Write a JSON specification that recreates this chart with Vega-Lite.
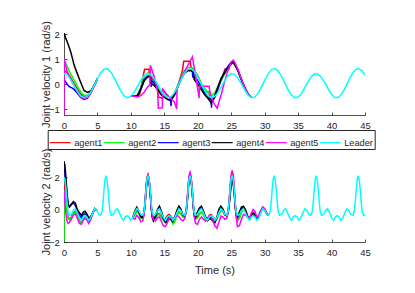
{
"$schema":"https://vega.github.io/schema/vega-lite/v6.json",
"background":"white",
"padding":{"left":40,"top":20,"right":5,"bottom":5},
"spacing":46,
"bounds":"flush",
"config":{
"view":{"stroke":null},
"font":"Liberation Sans",
"axis":{"grid":false,"tickCount":30,"labelOverlap":false,"labelBound":false,"domainColor":"#262626","domainWidth":0.8,"tickColor":"#262626","tickWidth":0.8,"tickSize":-3,"labelColor":"#262626","labelFontSize":9.5,"labelFont":"Liberation Sans","titleColor":"#262626","titleFontSize":11,"titleFontWeight":"normal","titleFont":"Liberation Sans"},
"axisX":{"labelPadding":8.5,"labelFlush":false},
"axisY":{"labelPadding":7.6}
},
"datasets":{
"ta":[
{"s":"agent1","t":0,"v":0.57},{"s":"agent1","t":0.25,"v":0.52},{"s":"agent1","t":0.5,"v":0.45},{"s":"agent1","t":0.75,"v":0.37},{"s":"agent1","t":1,"v":0.27},{"s":"agent1","t":1.25,"v":0.15},{"s":"agent1","t":1.5,"v":0.04},{"s":"agent1","t":2,"v":-0.2},{"s":"agent1","t":2.5,"v":-0.4},{"s":"agent1","t":3,"v":-0.5},{"s":"agent1","t":3.5,"v":-0.48},{"s":"agent1","t":4,"v":-0.31},{"s":"agent1","t":4.5,"v":-0.05},{"s":"agent1","t":5,"v":0.23},{"s":"agent1","t":7,"v":null},
{"s":"agent1","t":10,"v":-0.47},{"s":"agent1","t":10.5,"v":-0.47},{"s":"agent1","t":11,"v":-0.45},{"s":"agent1","t":11.3,"v":-0.4},{"s":"agent1","t":11.6,"v":0},{"s":"agent1","t":12,"v":0.55},{"s":"agent1","t":12.05,"v":0.6},{"s":"agent1","t":12.7,"v":0.6},{"s":"agent1","t":12.75,"v":0.35},{"s":"agent1","t":13,"v":0.3},{"s":"agent1","t":13.5,"v":0.15},{"s":"agent1","t":14,"v":-0.1},{"s":"agent1","t":14.1,"v":-0.5},{"s":"agent1","t":14.7,"v":-0.55},{"s":"agent1","t":14.75,"v":-0.2},{"s":"agent1","t":15.2,"v":-0.35},{"s":"agent1","t":15.7,"v":-0.5},{"s":"agent1","t":16.2,"v":-0.55},{"s":"agent1","t":16.7,"v":-0.3},{"s":"agent1","t":17.2,"v":0.1},{"s":"agent1","t":17.7,"v":0.55},{"s":"agent1","t":17.9,"v":0.92},{"s":"agent1","t":18.9,"v":0.92},{"s":"agent1","t":18.95,"v":0.7},{"s":"agent1","t":19.5,"v":0.55},{"s":"agent1","t":20,"v":0.35},{"s":"agent1","t":20.5,"v":0.05},{"s":"agent1","t":20.9,"v":-0.3},{"s":"agent1","t":21.7,"v":-0.3},{"s":"agent1","t":21.75,"v":-0.5},{"s":"agent1","t":22,"v":-0.75},{"s":"agent1","t":22.5,"v":-0.55},{"s":"agent1","t":23,"v":-0.2},{"s":"agent1","t":23.5,"v":0.2},{"s":"agent1","t":24,"v":0.55},{"s":"agent1","t":24.1,"v":0.62},{"s":"agent1","t":24.7,"v":0.62},{"s":"agent1","t":24.75,"v":0.8},{"s":"agent1","t":25.2,"v":0.93},{"s":"agent1","t":25.5,"v":0.85},{"s":"agent1","t":26,"v":0.58},{"s":"agent1","t":26.5,"v":0.22},{"s":"agent1","t":27,"v":-0.12},{"s":"agent1","t":27.5,"v":-0.38},{"s":"agent1","t":28,"v":-0.52},
{"s":"agent2","t":0,"v":1.0},{"s":"agent2","t":0.25,"v":0.85},{"s":"agent2","t":0.5,"v":0.7},{"s":"agent2","t":0.75,"v":0.55},{"s":"agent2","t":1,"v":0.42},{"s":"agent2","t":1.25,"v":0.3},{"s":"agent2","t":1.5,"v":0.18},{"s":"agent2","t":2,"v":-0.08},{"s":"agent2","t":2.5,"v":-0.3},{"s":"agent2","t":3,"v":-0.43},{"s":"agent2","t":3.5,"v":-0.43},{"s":"agent2","t":4,"v":-0.3},{"s":"agent2","t":4.5,"v":-0.05},{"s":"agent2","t":5,"v":0.23},{"s":"agent2","t":7,"v":null},
{"s":"agent2","t":10,"v":-0.47},{"s":"agent2","t":10.5,"v":-0.47},{"s":"agent2","t":11,"v":-0.42},{"s":"agent2","t":11.5,"v":-0.1},{"s":"agent2","t":12,"v":0.3},{"s":"agent2","t":12.5,"v":0.45},{"s":"agent2","t":12.9,"v":0.42},{"s":"agent2","t":12.95,"v":0.2},{"s":"agent2","t":13.5,"v":0.05},{"s":"agent2","t":14,"v":-0.15},{"s":"agent2","t":14.5,"v":-0.3},{"s":"agent2","t":15,"v":-0.4},{"s":"agent2","t":15.5,"v":-0.5},{"s":"agent2","t":16,"v":-0.55},{"s":"agent2","t":16.5,"v":-0.35},{"s":"agent2","t":17,"v":-0.05},{"s":"agent2","t":17.5,"v":0.3},{"s":"agent2","t":18,"v":0.55},{"s":"agent2","t":18.5,"v":0.68},{"s":"agent2","t":19,"v":0.66},{"s":"agent2","t":19.5,"v":0.55},{"s":"agent2","t":20,"v":0.3},{"s":"agent2","t":20.5,"v":0.05},{"s":"agent2","t":21,"v":-0.15},{"s":"agent2","t":21.5,"v":-0.3},{"s":"agent2","t":22,"v":-0.45},{"s":"agent2","t":22.5,"v":-0.35},{"s":"agent2","t":23,"v":-0.1},{"s":"agent2","t":23.5,"v":0.15},{"s":"agent2","t":24,"v":0.4},{"s":"agent2","t":24.5,"v":0.65},{"s":"agent2","t":25,"v":0.85},{"s":"agent2","t":25.3,"v":0.88},{"s":"agent2","t":25.5,"v":0.82},{"s":"agent2","t":26,"v":0.55},{"s":"agent2","t":26.5,"v":0.2},{"s":"agent2","t":27,"v":-0.12},{"s":"agent2","t":27.5,"v":-0.38},{"s":"agent2","t":28,"v":-0.52},
{"s":"agent3","t":0,"v":0.2},{"s":"agent3","t":0.25,"v":0.1},{"s":"agent3","t":0.5,"v":0.0},{"s":"agent3","t":0.75,"v":-0.08},{"s":"agent3","t":1,"v":-0.12},{"s":"agent3","t":1.25,"v":-0.15},{"s":"agent3","t":1.5,"v":-0.2},{"s":"agent3","t":2,"v":-0.35},{"s":"agent3","t":2.5,"v":-0.52},{"s":"agent3","t":3,"v":-0.6},{"s":"agent3","t":3.5,"v":-0.55},{"s":"agent3","t":4,"v":-0.35},{"s":"agent3","t":4.5,"v":-0.07},{"s":"agent3","t":5,"v":0.22},{"s":"agent3","t":7,"v":null},
{"s":"agent3","t":10,"v":-0.47},{"s":"agent3","t":10.5,"v":-0.47},{"s":"agent3","t":11,"v":-0.45},{"s":"agent3","t":11.5,"v":-0.15},{"s":"agent3","t":12,"v":0.2},{"s":"agent3","t":12.5,"v":0.33},{"s":"agent3","t":13,"v":0.3},{"s":"agent3","t":13.05,"v":-0.1},{"s":"agent3","t":13.1,"v":0.15},{"s":"agent3","t":13.5,"v":0.05},{"s":"agent3","t":14,"v":-0.2},{"s":"agent3","t":14.5,"v":-0.4},{"s":"agent3","t":15,"v":-0.5},{"s":"agent3","t":15.5,"v":-0.6},{"s":"agent3","t":15.95,"v":-0.65},{"s":"agent3","t":16,"v":-0.87},{"s":"agent3","t":16.05,"v":-0.6},{"s":"agent3","t":16.5,"v":-0.45},{"s":"agent3","t":17,"v":-0.1},{"s":"agent3","t":17.5,"v":0.25},{"s":"agent3","t":18,"v":0.45},{"s":"agent3","t":18.5,"v":0.55},{"s":"agent3","t":19,"v":0.55},{"s":"agent3","t":19.2,"v":0.5},{"s":"agent3","t":19.25,"v":0.3},{"s":"agent3","t":19.5,"v":0.3},{"s":"agent3","t":20,"v":0.15},{"s":"agent3","t":20.5,"v":-0.1},{"s":"agent3","t":21,"v":-0.3},{"s":"agent3","t":21.5,"v":-0.5},{"s":"agent3","t":22,"v":-0.6},{"s":"agent3","t":22.05,"v":-0.93},{"s":"agent3","t":22.1,"v":-0.7},{"s":"agent3","t":22.5,"v":-0.5},{"s":"agent3","t":23,"v":-0.15},{"s":"agent3","t":23.5,"v":0.2},{"s":"agent3","t":24,"v":0.5},{"s":"agent3","t":24.5,"v":0.72},{"s":"agent3","t":25,"v":0.88},{"s":"agent3","t":25.3,"v":0.9},{"s":"agent3","t":25.5,"v":0.84},{"s":"agent3","t":26,"v":0.56},{"s":"agent3","t":26.5,"v":0.2},{"s":"agent3","t":27,"v":-0.12},{"s":"agent3","t":27.5,"v":-0.38},{"s":"agent3","t":28,"v":-0.52},
{"s":"agent4","t":0,"v":2.05},{"s":"agent4","t":0.25,"v":1.85},{"s":"agent4","t":0.5,"v":1.68},{"s":"agent4","t":0.75,"v":1.5},{"s":"agent4","t":1,"v":1.3},{"s":"agent4","t":1.25,"v":1.05},{"s":"agent4","t":1.5,"v":0.78},{"s":"agent4","t":2,"v":0.42},{"s":"agent4","t":2.5,"v":0.08},{"s":"agent4","t":3,"v":-0.24},{"s":"agent4","t":3.5,"v":-0.32},{"s":"agent4","t":4,"v":-0.26},{"s":"agent4","t":4.5,"v":-0.05},{"s":"agent4","t":5,"v":0.23},{"s":"agent4","t":7,"v":null},
{"s":"agent4","t":10,"v":-0.47},{"s":"agent4","t":10.5,"v":-0.47},{"s":"agent4","t":11,"v":-0.45},{"s":"agent4","t":11.5,"v":-0.2},{"s":"agent4","t":12,"v":0.15},{"s":"agent4","t":12.5,"v":0.3},{"s":"agent4","t":12.9,"v":0.28},{"s":"agent4","t":12.95,"v":0.05},{"s":"agent4","t":13.5,"v":-0.05},{"s":"agent4","t":14,"v":-0.2},{"s":"agent4","t":14.5,"v":-0.4},{"s":"agent4","t":15,"v":-0.5},{"s":"agent4","t":15.5,"v":-0.6},{"s":"agent4","t":16,"v":-0.6},{"s":"agent4","t":16.5,"v":-0.4},{"s":"agent4","t":17,"v":-0.1},{"s":"agent4","t":17.5,"v":0.2},{"s":"agent4","t":18,"v":0.45},{"s":"agent4","t":18.5,"v":0.55},{"s":"agent4","t":19,"v":0.56},{"s":"agent4","t":19.4,"v":0.5},{"s":"agent4","t":19.45,"v":0.2},{"s":"agent4","t":20,"v":0.0},{"s":"agent4","t":20.5,"v":-0.2},{"s":"agent4","t":21,"v":-0.4},{"s":"agent4","t":21.5,"v":-0.55},{"s":"agent4","t":22,"v":-0.73},{"s":"agent4","t":22.5,"v":-0.5},{"s":"agent4","t":23,"v":-0.1},{"s":"agent4","t":23.5,"v":0.25},{"s":"agent4","t":24,"v":0.45},{"s":"agent4","t":24.5,"v":0.65},{"s":"agent4","t":25,"v":0.82},{"s":"agent4","t":25.2,"v":0.87},{"s":"agent4","t":25.5,"v":0.8},{"s":"agent4","t":26,"v":0.55},{"s":"agent4","t":26.5,"v":0.2},{"s":"agent4","t":27,"v":-0.12},{"s":"agent4","t":27.5,"v":-0.38},{"s":"agent4","t":28,"v":-0.52},
{"s":"agent5","t":0,"v":-1.2},{"s":"agent5","t":0.04,"v":1.0},{"s":"agent5","t":0.25,"v":0.75},{"s":"agent5","t":0.5,"v":0.5},{"s":"agent5","t":0.75,"v":0.35},{"s":"agent5","t":1,"v":0.2},{"s":"agent5","t":1.25,"v":0.07},{"s":"agent5","t":1.5,"v":-0.05},{"s":"agent5","t":2,"v":-0.3},{"s":"agent5","t":2.5,"v":-0.5},{"s":"agent5","t":3,"v":-0.57},{"s":"agent5","t":3.5,"v":-0.52},{"s":"agent5","t":4,"v":-0.33},{"s":"agent5","t":4.5,"v":-0.06},{"s":"agent5","t":5,"v":0.23},{"s":"agent5","t":7,"v":null},
{"s":"agent5","t":10,"v":-0.47},{"s":"agent5","t":10.5,"v":-0.47},{"s":"agent5","t":11,"v":-0.5},{"s":"agent5","t":11.5,"v":-0.45},{"s":"agent5","t":12,"v":-0.3},{"s":"agent5","t":12.5,"v":-0.1},{"s":"agent5","t":12.85,"v":0.0},{"s":"agent5","t":12.9,"v":0.76},{"s":"agent5","t":13.5,"v":0.3},{"s":"agent5","t":14,"v":-0.3},{"s":"agent5","t":14.1,"v":-0.95},{"s":"agent5","t":14.7,"v":-0.93},{"s":"agent5","t":14.75,"v":-0.2},{"s":"agent5","t":15.2,"v":-0.35},{"s":"agent5","t":15.7,"v":-0.5},{"s":"agent5","t":16.2,"v":-0.62},{"s":"agent5","t":16.5,"v":-0.7},{"s":"agent5","t":16.85,"v":-0.98},{"s":"agent5","t":16.9,"v":-0.15},{"s":"agent5","t":17.5,"v":0.25},{"s":"agent5","t":18,"v":0.5},{"s":"agent5","t":18.5,"v":0.75},{"s":"agent5","t":19,"v":1.0},{"s":"agent5","t":19.2,"v":1.1},{"s":"agent5","t":19.7,"v":0.3},{"s":"agent5","t":20.2,"v":-0.55},{"s":"agent5","t":20.25,"v":-0.07},{"s":"agent5","t":21.7,"v":-0.07},{"s":"agent5","t":21.75,"v":-0.2},{"s":"agent5","t":22,"v":-0.5},{"s":"agent5","t":22.5,"v":-0.8},{"s":"agent5","t":22.9,"v":-0.95},{"s":"agent5","t":23,"v":-0.85},{"s":"agent5","t":23.5,"v":-0.4},{"s":"agent5","t":24,"v":0.1},{"s":"agent5","t":24.5,"v":0.55},{"s":"agent5","t":25,"v":0.9},{"s":"agent5","t":25.3,"v":0.97},{"s":"agent5","t":25.5,"v":0.9},{"s":"agent5","t":26,"v":0.6},{"s":"agent5","t":26.5,"v":0.22},{"s":"agent5","t":27,"v":-0.12},{"s":"agent5","t":27.5,"v":-0.38},{"s":"agent5","t":28,"v":-0.52}
],
"tl":[
{"t":0,"Leader":0.43},{"t":0.5,"Leader":0.37},{"t":1,"Leader":0.2},{"t":1.5,"Leader":-0.04},{"t":2,"Leader":-0.28},{"t":2.5,"Leader":-0.46},{"t":3,"Leader":-0.53},{"t":3.5,"Leader":-0.48},{"t":4,"Leader":-0.31},{"t":4.5,"Leader":-0.05},{"t":5,"Leader":0.23},{"t":5.5,"Leader":0.47},{"t":6,"Leader":0.61},{"t":6.5,"Leader":0.62},{"t":7,"Leader":0.49},{"t":7.5,"Leader":0.27},{"t":8,"Leader":-0.01},{"t":8.5,"Leader":-0.27},{"t":9,"Leader":-0.46},{"t":9.5,"Leader":-0.53},{"t":10,"Leader":-0.47},{"t":10.5,"Leader":-0.3},{"t":11,"Leader":-0.07},{"t":11.5,"Leader":0.17},{"t":12,"Leader":0.35},{"t":12.5,"Leader":0.43},{"t":13,"Leader":0.38},{"t":13.5,"Leader":0.23},{"t":14,"Leader":0.0},{"t":14.5,"Leader":-0.25},{"t":15,"Leader":-0.44},{"t":15.5,"Leader":-0.53},{"t":16,"Leader":-0.49},{"t":16.5,"Leader":-0.34},{"t":17,"Leader":-0.09},{"t":17.5,"Leader":0.19},{"t":18,"Leader":0.44},{"t":18.5,"Leader":0.6},{"t":19,"Leader":0.62},{"t":19.5,"Leader":0.52},{"t":20,"Leader":0.3},{"t":20.5,"Leader":0.03},{"t":21,"Leader":-0.24},{"t":21.5,"Leader":-0.44},{"t":22,"Leader":-0.53},{"t":22.5,"Leader":-0.49},{"t":23,"Leader":-0.33},{"t":23.5,"Leader":-0.1},{"t":24,"Leader":0.14},{"t":24.5,"Leader":0.33},{"t":25,"Leader":0.43},{"t":25.5,"Leader":0.4},{"t":26,"Leader":0.25},{"t":26.5,"Leader":0.03},{"t":27,"Leader":-0.21},{"t":27.5,"Leader":-0.42},{"t":28,"Leader":-0.52},{"t":28.5,"Leader":-0.51},{"t":29,"Leader":-0.36},{"t":29.5,"Leader":-0.12},{"t":30,"Leader":0.16},{"t":30.5,"Leader":0.41},{"t":31,"Leader":0.58},{"t":31.5,"Leader":0.63},{"t":32,"Leader":0.54},{"t":32.5,"Leader":0.33},{"t":33,"Leader":0.06},{"t":33.5,"Leader":-0.21},{"t":34,"Leader":-0.42},{"t":34.5,"Leader":-0.53},{"t":35,"Leader":-0.5},{"t":35.5,"Leader":-0.36},{"t":36,"Leader":-0.13},{"t":36.5,"Leader":0.11},{"t":37,"Leader":0.31},{"t":37.5,"Leader":0.42},{"t":38,"Leader":0.41},{"t":38.5,"Leader":0.28},{"t":39,"Leader":0.06},{"t":39.5,"Leader":-0.18},{"t":40,"Leader":-0.39},{"t":40.5,"Leader":-0.52},{"t":41,"Leader":-0.52},{"t":41.5,"Leader":-0.39},{"t":42,"Leader":-0.16},{"t":42.5,"Leader":0.12},{"t":43,"Leader":0.38},{"t":43.5,"Leader":0.57},{"t":44,"Leader":0.63},{"t":44.5,"Leader":0.56},{"t":45,"Leader":0.37}
],
"bw":[
{"t":0,"agent1":1.5,"agent2":-1.95,"agent3":2.5,"agent4":2.9,"agent5":1.2,"Leader":2.0},
{"t":0.03,"agent1":1.45,"agent2":1.2,"agent3":2.48,"agent4":2.92,"agent5":1.05,"Leader":1.98},
{"t":0.15,"agent1":1.2,"agent2":1.0,"agent3":2.3,"agent4":2.7,"agent5":0.3,"Leader":1.85},
{"t":0.3,"agent1":0.6,"agent2":0.5,"agent3":1.6,"agent4":1.9,"agent5":-0.3,"Leader":1.3},
{"t":0.45,"agent1":0.0,"agent2":-0.1,"agent3":0.9,"agent4":1.0,"agent5":-0.7,"Leader":0.5},
{"t":0.6,"agent1":-0.45,"agent2":-0.5,"agent3":0.35,"agent4":0.35,"agent5":-0.85,"Leader":-0.1},
{"t":0.8,"agent1":-0.6,"agent2":-0.65,"agent3":0.2,"agent4":0.15,"agent5":-0.8,"Leader":-0.35},
{"t":1.1,"agent1":-0.45,"agent2":-0.5,"agent3":0.35,"agent4":0.3,"agent5":-0.6,"Leader":-0.3},
{"t":1.4,"agent1":-0.2,"agent2":-0.25,"agent3":0.4,"agent4":0.5,"agent5":-0.35,"Leader":-0.05},
{"t":1.7,"agent1":-0.1,"agent2":-0.15,"agent3":0.25,"agent4":0.4,"agent5":-0.25,"Leader":0.06},
{"t":2.0,"agent1":-0.4,"agent2":-0.45,"agent3":-0.1,"agent4":0.0,"agent5":-0.55,"Leader":-0.2},
{"t":2.3,"agent1":-0.7,"agent2":-0.72,"agent3":-0.35,"agent4":-0.2,"agent5":-0.85,"Leader":-0.5},
{"t":2.6,"agent1":-0.8,"agent2":-0.8,"agent3":-0.5,"agent4":-0.35,"agent5":-0.9,"Leader":-0.66},
{"t":2.9,"agent1":-0.55,"agent2":-0.55,"agent3":-0.3,"agent4":-0.15,"agent5":-0.65,"Leader":-0.45},
{"t":3.14,"agent1":-0.48,"agent2":-0.48,"agent3":-0.25,"agent4":-0.1,"agent5":-0.55,"Leader":-0.38},
{"t":3.4,"agent1":-0.55,"agent2":-0.55,"agent3":-0.35,"agent4":-0.25,"agent5":-0.62,"Leader":-0.45},
{"t":3.7,"agent1":-0.75,"agent2":-0.75,"agent3":-0.58,"agent4":-0.5,"agent5":-0.85,"Leader":-0.66},
{"t":4.0,"agent1":-0.55,"agent2":-0.55,"agent3":-0.48,"agent4":-0.45,"agent5":-0.62,"Leader":-0.5},
{"t":4.3,"agent1":-0.22,"agent2":-0.22,"agent3":-0.2,"agent4":-0.2,"agent5":-0.25,"Leader":-0.2},
{"t":4.6,"agent1":0.06,"agent2":0.06,"agent3":0.06,"agent4":0.06,"agent5":0.06,"Leader":0.06},
{"t":4.9,"agent1":-0.05,"agent2":-0.05,"agent3":-0.05,"agent4":-0.05,"agent5":-0.05,"Leader":-0.05},
{"t":5.2,"Leader":-0.3},{"t":5.5,"Leader":-0.35},{"t":5.7,"Leader":-0.1},{"t":5.85,"Leader":0.5},{"t":6.0,"Leader":1.3},{"t":6.13,"Leader":1.85},
{"t":6.28,"Leader":2.1},{"t":6.43,"Leader":1.85},{"t":6.58,"Leader":1.3},{"t":6.73,"Leader":0.5},{"t":6.88,"Leader":-0.1},{"t":7.08,"Leader":-0.35},{"t":7.38,"Leader":-0.3},{"t":7.68,"Leader":-0.05},{"t":7.98,"Leader":0.06},{"t":8.28,"Leader":-0.2},{"t":8.58,"Leader":-0.5},{"t":8.88,"Leader":-0.66},{"t":9.18,"Leader":-0.45},{"t":9.42,"Leader":-0.38},{"t":9.68,"Leader":-0.45},{"t":9.98,"Leader":-0.66},
{"t":10.28,"agent1":-0.5,"agent2":-0.5,"agent3":-0.5,"agent4":-0.5,"agent5":-0.5,"Leader":-0.5},
{"t":10.58,"agent1":-0.3,"agent2":-0.35,"agent3":-0.2,"agent4":-0.1,"agent5":-0.6,"Leader":-0.2},
{"t":10.88,"agent1":-0.05,"agent2":-0.15,"agent3":0.05,"agent4":0.15,"agent5":-0.35,"Leader":0.06},
{"t":11.18,"agent1":-0.2,"agent2":-0.25,"agent3":-0.1,"agent4":-0.1,"agent5":-0.5,"Leader":-0.05},
{"t":11.48,"agent1":-0.5,"agent2":-0.55,"agent3":-0.4,"agent4":-0.45,"agent5":-0.75,"Leader":-0.3},
{"t":11.78,"agent1":-0.5,"agent2":-0.55,"agent3":-0.45,"agent4":-0.5,"agent5":-0.7,"Leader":-0.35},
{"t":11.98,"agent1":-0.15,"agent2":-0.2,"agent3":-0.15,"agent4":-0.2,"agent5":-0.3,"Leader":-0.1},
{"t":12.13,"agent1":0.55,"agent2":0.5,"agent3":0.45,"agent4":0.4,"agent5":0.4,"Leader":0.5},
{"t":12.28,"agent1":1.5,"agent2":1.4,"agent3":1.3,"agent4":1.2,"agent5":1.3,"Leader":1.3},
{"t":12.41,"agent1":2.0,"agent2":1.95,"agent3":1.85,"agent4":1.75,"agent5":1.9,"Leader":1.85},
{"t":12.57,"agent1":2.17,"agent2":2.12,"agent3":2.05,"agent4":1.95,"agent5":2.12,"Leader":2.1},
{"t":12.72,"agent1":1.9,"agent2":1.85,"agent3":1.8,"agent4":1.7,"agent5":1.85,"Leader":1.85},
{"t":12.87,"agent1":1.25,"agent2":1.2,"agent3":1.2,"agent4":1.1,"agent5":1.2,"Leader":1.3},
{"t":13.02,"agent1":0.35,"agent2":0.3,"agent3":0.3,"agent4":0.2,"agent5":0.3,"Leader":0.5},
{"t":13.17,"agent1":-0.3,"agent2":-0.35,"agent3":-0.35,"agent4":-0.45,"agent5":-0.35,"Leader":-0.1},
{"t":13.37,"agent1":-0.55,"agent2":-0.6,"agent3":-0.6,"agent4":-0.7,"agent5":-0.6,"Leader":-0.35},
{"t":13.67,"agent1":-0.5,"agent2":-0.55,"agent3":-0.4,"agent4":-0.45,"agent5":-0.7,"Leader":-0.3},
{"t":13.97,"agent1":-0.3,"agent2":-0.35,"agent3":-0.05,"agent4":0.0,"agent5":-0.5,"Leader":-0.05},
{"t":14.27,"agent1":-0.25,"agent2":-0.3,"agent3":0.1,"agent4":0.21,"agent5":-0.45,"Leader":0.06},
{"t":14.57,"agent1":-0.45,"agent2":-0.5,"agent3":-0.2,"agent4":-0.1,"agent5":-0.75,"Leader":-0.2},
{"t":14.87,"agent1":-0.6,"agent2":-0.7,"agent3":-0.55,"agent4":-0.55,"agent5":-1.0,"Leader":-0.5},
{"t":15.17,"agent1":-0.55,"agent2":-0.75,"agent3":-0.72,"agent4":-0.8,"agent5":-1.05,"Leader":-0.66},
{"t":15.47,"agent1":-0.35,"agent2":-0.55,"agent3":-0.55,"agent4":-0.72,"agent5":-0.8,"Leader":-0.45},
{"t":15.71,"agent1":-0.3,"agent2":-0.45,"agent3":-0.45,"agent4":-0.6,"agent5":-0.55,"Leader":-0.38},
{"t":15.97,"agent1":-0.4,"agent2":-0.6,"agent3":-0.5,"agent4":-0.6,"agent5":-0.45,"Leader":-0.45},
{"t":16.27,"agent1":-0.6,"agent2":-0.9,"agent3":-0.7,"agent4":-0.75,"agent5":-0.55,"Leader":-0.66},
{"t":16.57,"agent1":-0.5,"agent2":-0.75,"agent3":-0.5,"agent4":-0.45,"agent5":-0.5,"Leader":-0.5},
{"t":16.87,"agent1":-0.3,"agent2":-0.4,"agent3":-0.15,"agent4":-0.05,"agent5":-0.35,"Leader":-0.2},
{"t":17.17,"agent1":-0.15,"agent2":-0.15,"agent3":0.1,"agent4":0.21,"agent5":-0.45,"Leader":0.06},
{"t":17.47,"agent1":-0.25,"agent2":-0.25,"agent3":-0.02,"agent4":0.05,"agent5":-0.6,"Leader":-0.05},
{"t":17.77,"agent1":-0.45,"agent2":-0.45,"agent3":-0.32,"agent4":-0.35,"agent5":-0.7,"Leader":-0.3},
{"t":18.07,"agent1":-0.4,"agent2":-0.45,"agent3":-0.38,"agent4":-0.4,"agent5":-0.55,"Leader":-0.35},
{"t":18.27,"agent1":-0.05,"agent2":-0.1,"agent3":-0.1,"agent4":-0.15,"agent5":-0.1,"Leader":-0.1},
{"t":18.42,"agent1":0.6,"agent2":0.55,"agent3":0.5,"agent4":0.4,"agent5":0.6,"Leader":0.5},
{"t":18.57,"agent1":1.45,"agent2":1.4,"agent3":1.35,"agent4":1.2,"agent5":1.5,"Leader":1.3},
{"t":18.7,"agent1":2.0,"agent2":1.95,"agent3":1.9,"agent4":1.8,"agent5":2.1,"Leader":1.85},
{"t":18.85,"agent1":2.2,"agent2":2.15,"agent3":2.1,"agent4":2.05,"agent5":2.3,"Leader":2.1},
{"t":19.0,"agent1":1.95,"agent2":1.9,"agent3":1.85,"agent4":1.8,"agent5":2.05,"Leader":1.85},
{"t":19.15,"agent1":1.3,"agent2":1.25,"agent3":1.25,"agent4":1.2,"agent5":1.35,"Leader":1.3},
{"t":19.3,"agent1":0.4,"agent2":0.35,"agent3":0.4,"agent4":0.3,"agent5":0.4,"Leader":0.5},
{"t":19.45,"agent1":-0.25,"agent2":-0.3,"agent3":-0.2,"agent4":-0.3,"agent5":-0.4,"Leader":-0.1},
{"t":19.65,"agent1":-0.5,"agent2":-0.6,"agent3":-0.45,"agent4":-0.5,"agent5":-0.85,"Leader":-0.35},
{"t":19.95,"agent1":-0.45,"agent2":-0.55,"agent3":-0.25,"agent4":-0.15,"agent5":-0.92,"Leader":-0.3},
{"t":20.25,"agent1":-0.25,"agent2":-0.3,"agent3":0.0,"agent4":0.1,"agent5":-0.6,"Leader":-0.05},
{"t":20.55,"agent1":-0.15,"agent2":-0.15,"agent3":0.12,"agent4":0.21,"agent5":-0.45,"Leader":0.06},
{"t":20.85,"agent1":-0.3,"agent2":-0.35,"agent3":-0.15,"agent4":-0.1,"agent5":-0.6,"Leader":-0.2},
{"t":21.15,"agent1":-0.5,"agent2":-0.6,"agent3":-0.45,"agent4":-0.45,"agent5":-0.7,"Leader":-0.5},
{"t":21.45,"agent1":-0.55,"agent2":-0.7,"agent3":-0.65,"agent4":-0.7,"agent5":-0.6,"Leader":-0.66},
{"t":21.75,"agent1":-0.35,"agent2":-0.5,"agent3":-0.5,"agent4":-0.55,"agent5":-0.35,"Leader":-0.45},
{"t":21.99,"agent1":-0.3,"agent2":-0.4,"agent3":-0.5,"agent4":-0.6,"agent5":-0.4,"Leader":-0.38},
{"t":22.25,"agent1":-0.45,"agent2":-0.5,"agent3":-0.6,"agent4":-0.72,"agent5":-0.7,"Leader":-0.45},
{"t":22.55,"agent1":-0.6,"agent2":-0.7,"agent3":-0.75,"agent4":-0.82,"agent5":-1.0,"Leader":-0.66},
{"t":22.85,"agent1":-0.5,"agent2":-0.6,"agent3":-0.5,"agent4":-0.5,"agent5":-1.15,"Leader":-0.5},
{"t":23.15,"agent1":-0.25,"agent2":-0.3,"agent3":-0.1,"agent4":0.0,"agent5":-0.8,"Leader":-0.2},
{"t":23.45,"agent1":-0.05,"agent2":-0.05,"agent3":0.12,"agent4":0.21,"agent5":-0.4,"Leader":0.06},
{"t":23.75,"agent1":-0.1,"agent2":-0.1,"agent3":0.0,"agent4":0.05,"agent5":-0.45,"Leader":-0.05},
{"t":24.05,"agent1":-0.35,"agent2":-0.35,"agent3":-0.3,"agent4":-0.3,"agent5":-0.6,"Leader":-0.3},
{"t":24.35,"agent1":-0.35,"agent2":-0.4,"agent3":-0.38,"agent4":-0.4,"agent5":-0.55,"Leader":-0.35},
{"t":24.55,"agent1":-0.05,"agent2":-0.1,"agent3":-0.15,"agent4":-0.2,"agent5":-0.1,"Leader":-0.1},
{"t":24.7,"agent1":0.55,"agent2":0.5,"agent3":0.4,"agent4":0.3,"agent5":0.6,"Leader":0.5},
{"t":24.85,"agent1":1.4,"agent2":1.3,"agent3":1.1,"agent4":0.9,"agent5":1.5,"Leader":1.3},
{"t":24.98,"agent1":2.0,"agent2":1.9,"agent3":1.65,"agent4":1.45,"agent5":2.1,"Leader":1.85},
{"t":25.13,"agent1":2.25,"agent2":2.15,"agent3":1.95,"agent4":1.8,"agent5":2.42,"Leader":2.1},
{"t":25.28,"agent1":2.0,"agent2":1.9,"agent3":1.75,"agent4":1.65,"agent5":2.2,"Leader":1.85},
{"t":25.43,"agent1":1.35,"agent2":1.3,"agent3":1.2,"agent4":1.1,"agent5":1.5,"Leader":1.3},
{"t":25.58,"agent1":0.4,"agent2":0.4,"agent3":0.35,"agent4":0.3,"agent5":0.5,"Leader":0.5},
{"t":25.73,"agent1":-0.35,"agent2":-0.35,"agent3":-0.3,"agent4":-0.3,"agent5":-0.4,"Leader":-0.1},
{"t":25.93,"agent1":-0.7,"agent2":-0.65,"agent3":-0.5,"agent4":-0.45,"agent5":-1.05,"Leader":-0.35},
{"t":26.23,"agent1":-0.5,"agent2":-0.55,"agent3":-0.25,"agent4":-0.15,"agent5":-1.0,"Leader":-0.3},
{"t":26.53,"agent1":-0.1,"agent2":-0.2,"agent3":0.05,"agent4":0.15,"agent5":-0.6,"Leader":-0.05},
{"t":26.83,"agent1":0.15,"agent2":0.05,"agent3":0.15,"agent4":0.21,"agent5":-0.3,"Leader":0.06},
{"t":27.13,"agent1":0.0,"agent2":-0.1,"agent3":-0.1,"agent4":-0.05,"agent5":-0.35,"Leader":-0.2},
{"t":27.43,"agent1":-0.35,"agent2":-0.45,"agent3":-0.45,"agent4":-0.4,"agent5":-0.45,"Leader":-0.5},
{"t":27.73,"agent1":-0.55,"agent2":-0.62,"agent3":-0.62,"agent4":-0.6,"agent5":-0.5,"Leader":-0.66},
{"t":28.03,"agent1":-0.4,"agent2":-0.45,"agent3":-0.42,"agent4":-0.4,"agent5":-0.2,"Leader":-0.45},
{"t":28.27,"agent1":-0.25,"agent2":-0.3,"agent3":-0.3,"agent4":-0.2,"agent5":0.0,"Leader":-0.38},
{"t":28.53,"agent1":-0.3,"agent2":-0.35,"agent3":-0.35,"agent4":-0.25,"agent5":-0.1,"Leader":-0.45},
{"t":28.83,"agent1":-0.55,"agent2":-0.6,"agent3":-0.6,"agent4":-0.55,"agent5":-0.45,"Leader":-0.66},
{"t":29.13,"agent1":-0.45,"agent2":-0.48,"agent3":-0.45,"agent4":-0.4,"agent5":-0.35,"Leader":-0.5},
{"t":29.43,"agent1":-0.15,"agent2":-0.2,"agent3":-0.12,"agent4":-0.05,"agent5":-0.05,"Leader":-0.2},
{"t":29.73,"agent1":0.1,"agent2":0.06,"agent3":0.1,"agent4":0.15,"agent5":0.15,"Leader":0.06},
{"t":30.03,"agent1":-0.02,"agent2":-0.05,"agent3":-0.03,"agent4":0.0,"agent5":0.05,"Leader":-0.05},
{"t":30.33,"agent1":-0.28,"agent2":-0.3,"agent3":-0.3,"agent4":-0.25,"agent5":-0.25,"Leader":-0.3},
{"t":30.63,"agent1":-0.35,"agent2":-0.35,"agent3":-0.35,"agent4":-0.35,"agent5":-0.35,"Leader":-0.35},
{"t":30.83,"Leader":-0.1},{"t":30.98,"Leader":0.5},{"t":31.13,"Leader":1.3},{"t":31.26,"Leader":1.85},
{"t":31.42,"Leader":2.1},{"t":31.57,"Leader":1.85},{"t":31.72,"Leader":1.3},{"t":31.87,"Leader":0.5},{"t":32.02,"Leader":-0.1},{"t":32.22,"Leader":-0.35},{"t":32.52,"Leader":-0.3},{"t":32.82,"Leader":-0.05},{"t":33.12,"Leader":0.06},{"t":33.42,"Leader":-0.2},{"t":33.72,"Leader":-0.5},{"t":34.02,"Leader":-0.66},{"t":34.32,"Leader":-0.45},{"t":34.56,"Leader":-0.38},{"t":34.82,"Leader":-0.45},{"t":35.12,"Leader":-0.66},{"t":35.42,"Leader":-0.5},{"t":35.72,"Leader":-0.2},{"t":36.02,"Leader":0.06},{"t":36.32,"Leader":-0.05},{"t":36.62,"Leader":-0.3},{"t":36.92,"Leader":-0.35},{"t":37.12,"Leader":-0.1},{"t":37.27,"Leader":0.5},{"t":37.42,"Leader":1.3},{"t":37.55,"Leader":1.85},
{"t":37.7,"Leader":2.1},{"t":37.85,"Leader":1.85},{"t":38.0,"Leader":1.3},{"t":38.15,"Leader":0.5},{"t":38.3,"Leader":-0.1},{"t":38.5,"Leader":-0.35},{"t":38.8,"Leader":-0.3},{"t":39.1,"Leader":-0.05},{"t":39.4,"Leader":0.06},{"t":39.7,"Leader":-0.2},{"t":40.0,"Leader":-0.5},{"t":40.3,"Leader":-0.66},{"t":40.6,"Leader":-0.45},{"t":40.84,"Leader":-0.38},{"t":41.1,"Leader":-0.45},{"t":41.4,"Leader":-0.66},{"t":41.7,"Leader":-0.5},{"t":42.0,"Leader":-0.2},{"t":42.3,"Leader":0.06},{"t":42.6,"Leader":-0.05},{"t":42.9,"Leader":-0.3},{"t":43.2,"Leader":-0.35},{"t":43.4,"Leader":-0.1},{"t":43.55,"Leader":0.5},{"t":43.7,"Leader":1.3},{"t":43.83,"Leader":1.85},
{"t":43.98,"Leader":2.1},{"t":44.13,"Leader":1.85},{"t":44.28,"Leader":1.3},{"t":44.43,"Leader":0.5},{"t":44.58,"Leader":-0.1},{"t":44.78,"Leader":-0.35},{"t":45.0,"Leader":-0.32}
]
},
"vconcat":[
{"width":301,"height":82,
"layer":[
{"data":{"name":"ta"},
"mark":{"type":"line","strokeWidth":1.5,"clip":true,"invalid":"break-paths-filter-domains"},
"encoding":{
"x":{"field":"t","type":"quantitative","scale":{"domain":[0,45],"nice":false,"zero":false},"axis":{"values":[0,5,10,15,20,25,30,35,40,45],"tickCount":30,"format":"d","title":null,"labelOverlap":false}},
"y":{"field":"v","type":"quantitative","scale":{"domain":[-1.22,2.05],"nice":false,"zero":false},"axis":{"values":[-1,0,1,2],"tickCount":30,"format":"d","labelOverlap":false,"title":"Joint velocity 1 (rad/s)","titleX":-14.5,"titleY":41,"titleBaseline":"alphabetic","titleAngle":-90,"titleAlign":"center"}},
"color":{"field":"s","type":"nominal","scale":{"domain":["agent1","agent2","agent3","agent4","agent5","Leader"],"range":["#ff0000","#00ff00","#0000ff","#000000","#ff00ff","#00ffff"]},
"legend":{"orient":"none","legendX":-16.3,"legendY":97,"direction":"horizontal","columns":6,"title":null,"symbolType":"stroke","symbolSize":441,"symbolStrokeWidth":1.2,"labelFontSize":9.2,"labelFont":"Liberation Sans","labelColor":"#262626","labelOffset":2.5,"columnPadding":-6.8,"padding":1,"strokeColor":"#262626","fillColor":"white","labelLimit":100}}
}},
{"data":{"name":"tl"},"transform":[{"fold":["Leader"],"as":["s","v"]}],
"mark":{"type":"line","strokeWidth":1.5,"clip":true},
"encoding":{"x":{"field":"t","type":"quantitative"},"y":{"field":"v","type":"quantitative"},"color":{"field":"s","type":"nominal"}}}
]},
{"width":301,"height":81,
"data":{"name":"bw"},
"layer":[
{"transform":[{"fold":["agent1","agent2","agent3","agent4","agent5"],"as":["s","v"]}],
"mark":{"type":"line","strokeWidth":1.5,"clip":true,"invalid":"break-paths-filter-domains"},
"encoding":{
"x":{"field":"t","type":"quantitative","scale":{"domain":[0,45],"nice":false,"zero":false},"axis":{"values":[0,5,10,15,20,25,30,35,40,45],"tickCount":30,"format":"d","labelOverlap":false,"title":"Time (s)","titleX":150.5,"titleY":31,"titleBaseline":"alphabetic"}},
"y":{"field":"v","type":"quantitative","scale":{"domain":[-2,3],"nice":false,"zero":false},"axis":{"values":[-2,0,2],"tickCount":30,"format":"d","labelOverlap":false,"title":"Joint velocity 2 (rad/s)","titleX":-14.5,"titleY":40.5,"titleBaseline":"alphabetic","titleAngle":-90,"titleAlign":"center"}},
"color":{"field":"s","type":"nominal","legend":null}
}},
{"transform":[{"fold":["Leader"],"as":["s","v"]}],
"mark":{"type":"line","strokeWidth":1.5,"clip":true},
"encoding":{"x":{"field":"t","type":"quantitative"},"y":{"field":"v","type":"quantitative"},"color":{"field":"s","type":"nominal","legend":null}}}
]}
],
"resolve":{"scale":{"color":"shared"},"legend":{"color":"independent"}}
}
